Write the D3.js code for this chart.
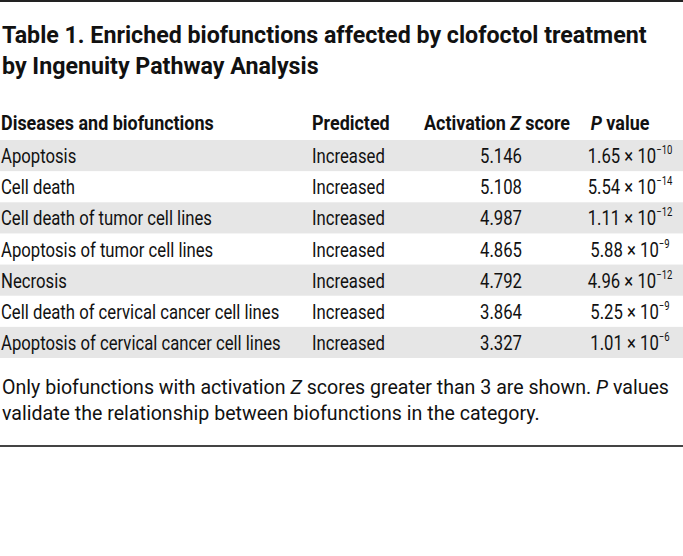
<!DOCTYPE html>
<html><head><meta charset="utf-8">
<script src="https://cdn.jsdelivr.net/npm/d3@7/dist/d3.min.js"></script>
<style>
html,body{margin:0;padding:0;background:#fff;}
svg{display:block;}
text{font-family:Roboto,"Open Sans","Liberation Sans",sans-serif;fill:#111;}
</style></head>
<body><svg id="chart" width="683" height="556"></svg>
<script>
const titleLines = ["Table 1. Enriched biofunctions affected by clofoctol treatment", "by Ingenuity Pathway Analysis"];
const headers = ["Diseases and biofunctions", "Predicted", "Activation Z score", "P value"];
const biofunctions = ["Apoptosis", "Cell death", "Cell death of tumor cell lines", "Apoptosis of tumor cell lines", "Necrosis", "Cell death of cervical cancer cell lines", "Apoptosis of cervical cancer cell lines"];
const predicted = ["Increased", "Increased", "Increased", "Increased", "Increased", "Increased", "Increased"];
const zScores = [5.146, 5.108, 4.987, 4.865, 4.792, 3.864, 3.327];
const pMantissa = ["1.65", "5.54", "1.11", "5.88", "4.96", "5.25", "1.01"];
const pExponent = [-10, -14, -12, -9, -12, -9, -6];
const footLines = [
  [["Only biofunctions with activation ", false], ["Z", true], [" scores greater than 3 are shown. ", false], ["P", true], [" values", false]],
  [["validate the relationship between biofunctions in the category.", false]]
];

const W = 683;
const svg = d3.select("#chart");

function measure(str, size, weight) {
  const t = svg.append("text").attr("font-size", size).attr("font-weight", weight).text(str);
  const w = t.node().getComputedTextLength();
  t.remove();
  return w;
}
const fsTitle = 24, fsHead = 21, fsBody = 21, fsFoot = 21;
const sxTitle = 645 / measure(titleLines[0], fsTitle, 700);
const sxHead = 213 / measure(headers[0], fsHead, 700);
const sxBody = 211 / measure(biofunctions[2], fsBody, 400);
const sxFoot = 668 / measure("Only biofunctions with activation Z scores greater than 3 are shown. P values", fsFoot, 400);

// rules
svg.append("rect").attr("x", 0).attr("y", 0).attr("width", W).attr("height", 2).attr("fill", "#222");
svg.append("rect").attr("x", 0).attr("y", 445).attr("width", W).attr("height", 2).attr("fill", "#444");

// title
svg.selectAll("text.title").data(titleLines).join("text")
  .attr("class", "title")
  .attr("font-size", fsTitle).attr("font-weight", 700)
  .attr("transform", (d, i) => `translate(2,${43 + i * 31}) scale(${sxTitle},1)`)
  .text(d => d);

// rows
const rowIdx = d3.range(biofunctions.length);
const y = d3.scaleBand().domain(rowIdx).range([140, 358]).padding(0);
const colX = {fn: 1, pred: 312, z: 501, p: 630};

svg.selectAll("rect.band").data(rowIdx.filter(i => i % 2 === 0)).join("rect")
  .attr("class", "band")
  .attr("x", 0).attr("width", W)
  .attr("y", d => y(d)).attr("height", y.bandwidth())
  .attr("fill", "#e6e6e6");

// headers
const hy = 130;
function headText(x, anchor, parts) {
  const t = svg.append("text").attr("font-size", fsHead).attr("font-weight", 700)
    .attr("text-anchor", anchor)
    .attr("transform", `translate(${x},${hy}) scale(${sxHead},1)`);
  parts.forEach(p => t.append("tspan").attr("font-style", p[1] ? "italic" : "normal").text(p[0]));
}
headText(colX.fn, "start", [[headers[0], false]]);
headText(colX.pred, "start", [[headers[1], false]]);
headText(497, "middle", [["Activation ", false], ["Z", true], [" score", false]]);
headText(620, "middle", [["P", true], [" value", false]]);

const baseY = d => y(d) + y.bandwidth() / 2 + 7.5;

svg.selectAll("text.fn").data(rowIdx).join("text").attr("class", "fn")
  .attr("font-size", fsBody)
  .attr("transform", d => `translate(${colX.fn},${baseY(d)}) scale(${sxBody},1)`)
  .text(d => biofunctions[d]);

svg.selectAll("text.pred").data(rowIdx).join("text").attr("class", "pred")
  .attr("font-size", fsBody)
  .attr("transform", d => `translate(${colX.pred},${baseY(d)}) scale(${sxBody},1)`)
  .text(d => predicted[d]);

svg.selectAll("text.z").data(rowIdx).join("text").attr("class", "z")
  .attr("font-size", fsBody).attr("text-anchor", "middle")
  .attr("transform", d => `translate(${colX.z},${baseY(d)}) scale(${sxBody},1)`)
  .text(d => d3.format(".3f")(zScores[d]));

const pt = svg.selectAll("text.p").data(rowIdx).join("text").attr("class", "p")
  .attr("font-size", fsBody).attr("text-anchor", "middle")
  .attr("transform", d => `translate(${colX.p},${baseY(d)}) scale(${sxBody},1)`);
pt.append("tspan").text(d => pMantissa[d] + " \u00d7 10");
pt.append("tspan").attr("font-size", 12).attr("dy", -9).text(d => "\u2212" + Math.abs(pExponent[d]));

// footnote
footLines.forEach((parts, i) => {
  const t = svg.append("text").attr("font-size", fsFoot)
    .attr("transform", `translate(2,${394 + i * 26}) scale(${sxFoot},1)`);
  parts.forEach(p => t.append("tspan").attr("font-style", p[1] ? "italic" : "normal").text(p[0]));
});
</script></body></html>
